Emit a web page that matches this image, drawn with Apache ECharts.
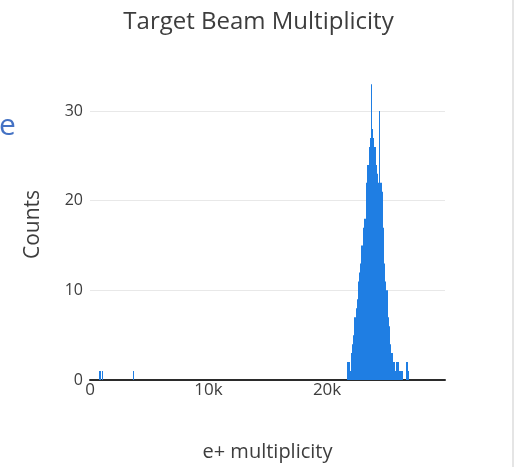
<!DOCTYPE html>
<html>
<head>
<meta charset="utf-8">
<script src="https://cdn.jsdelivr.net/npm/echarts@6/dist/echarts.min.js"></script>
<style>
  html, body { margin: 0; padding: 0; background: #fff; }
  #chart { width: 517px; height: 467px; }
</style>
</head>
<body>
<div id="chart"></div>
<script>
// Histogram of e+ multiplicity per event, bins of width 100
const BIN_WIDTH = 100;
const binStarts = [
  800, 1000, 3600,
  21700, 21800, 21900, 22000, 22100, 22200, 22300, 22400, 22500, 22600,
  22700, 22800, 22900, 23000, 23100, 23200, 23300, 23400, 23500, 23600,
  23700, 23800, 23900, 24000, 24100, 24200, 24300, 24400, 24500, 24600,
  24700, 24800, 24900, 25000, 25100, 25200, 25300, 25400, 25500, 25600,
  25700, 25800, 25900, 26000, 26100, 26200, 26300, 26700, 26800
];
const binCounts = [
  1, 1, 1,
  2, 2, 1, 3, 4, 5, 7, 8, 9, 11,
  12, 13, 15, 17, 18, 18, 22, 24, 26, 27,
  33, 28, 27, 26, 24, 23, 22, 30, 22, 21,
  17, 13, 11, 10, 7, 6, 4, 3, 3, 2,
  1, 2, 2, 2, 1, 1, 1, 2, 1
];
const xTicks = [0, 10000, 20000];
const yTicks = [0, 10, 20, 30];

const FONT = '"Open Sans", "DejaVu Sans", sans-serif';
const TEXT = '#3d3d3d';
const BAR = '#1f7ee3';

const histData = binStarts.map((s, i) => [s, binCounts[i]]);

const chart = echarts.init(document.getElementById('chart'), null, { renderer: 'canvas' });

chart.setOption({
  backgroundColor: '#fff',
  animation: false,
  textStyle: { fontFamily: FONT },
  title: {
    text: 'Target Beam Multiplicity',
    left: 'center',
    top: 5,
    textStyle: { fontFamily: FONT, fontSize: 24, fontWeight: 'normal', color: TEXT }
  },
  grid: { left: 90, right: 72, top: 69, bottom: 87, containLabel: false },
  xAxis: {
    type: 'value',
    min: 0,
    max: 29950,
    interval: 10000,
    name: 'e+ multiplicity',
    nameLocation: 'middle',
    nameGap: 62,
    nameTextStyle: { fontFamily: FONT, fontSize: 20, color: TEXT },
    axisLine: { show: true, onZero: false, lineStyle: { color: '#2b2b2b', width: 2 } },
    axisTick: { show: false },
    splitLine: { show: false },
    axisLabel: {
      margin: 2,
      fontFamily: FONT,
      fontSize: 17,
      color: TEXT,
      formatter: v => xTicks.includes(v) ? (v === 0 ? '0' : (v / 1000) + 'k') : ''
    }
  },
  yAxis: {
    type: 'value',
    min: 0,
    max: 34.7,
    interval: 10,
    name: 'Counts',
    nameLocation: 'middle',
    nameGap: 46,
    nameTextStyle: { fontFamily: FONT, fontSize: 21, color: TEXT },
    axisLine: { show: false },
    axisTick: { show: false },
    splitLine: {
      show: true,
      lineStyle: { color: ['#e8e8e8', '#e8e8e8', '#e8e8e8', '#e8e8e8', 'rgba(0,0,0,0)'], width: 1 }
    },
    axisLabel: {
      margin: 7,
      fontFamily: FONT,
      fontSize: 16,
      color: TEXT,
      formatter: v => yTicks.includes(v) ? String(v) : ''
    }
  },
  graphic: [
    {
      type: 'text',
      left: -1,
      top: 111,
      style: { text: 'e', font: '30px ' + FONT, fill: '#4472c4' }
    },
    {
      type: 'line',
      shape: { x1: 513, y1: 0, x2: 513, y2: 467 },
      style: { stroke: '#dcdcdc', lineWidth: 1.5 }
    }
  ],
  series: [{
    type: 'custom',
    data: histData,
    encode: { x: 0, y: 1 },
    renderItem: (params, api) => {
      const start = api.value(0);
      const count = api.value(1);
      const topLeft = api.coord([start, count]);
      const bottomRight = api.coord([start + BIN_WIDTH, 0]);
      // snap bin edges to whole pixels so neighbouring bins share an edge
      const x0 = Math.round(topLeft[0]);
      const x1 = Math.round(bottomRight[0]);
      return {
        type: 'rect',
        shape: {
          x: x0,
          y: topLeft[1],
          width: Math.max(x1 - x0, 1),
          height: bottomRight[1] - topLeft[1]
        },
        style: { fill: BAR }
      };
    },
    z: 1
  }]
});
</script>
</body>
</html>
